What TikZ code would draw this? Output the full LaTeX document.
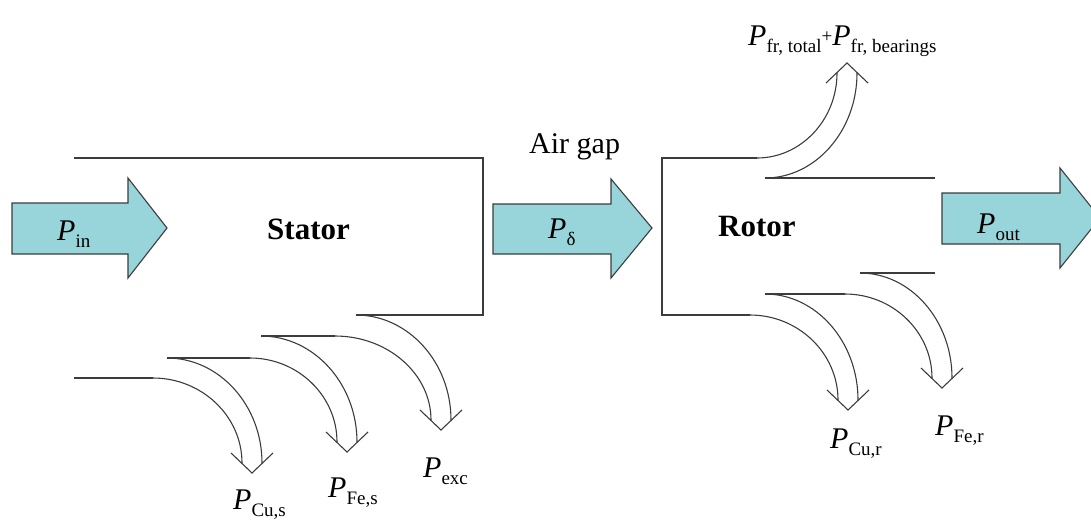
\documentclass[tikz,border=0pt]{standalone}
\usepackage{fontspec}
\setmainfont{Liberation Serif}
\usetikzlibrary{calc}
\definecolor{arrowfill}{RGB}{151,213,218}
\definecolor{linecol}{RGB}{60,60,60}
\newcommand\Pl[1]{\textit{P}\raisebox{-7pt}{\fontsize{19}{19}\selectfont #1}}
\newcommand\flowto[2]{\draw[flow] (#1) .. controls ($(#1)!0.55!(#1 -| #2)$) and ($(#2)!0.55!(#1 -| #2)$) .. (#2);}
\newcommand\downhead[1]{\draw[flow] ($(#1)+(-21,-20)$) -- (#1) -- ($(#1)+(21,-20)$);}
\newcommand\uphead[1]{\draw[flow] ($(#1)+(-21,20)$) -- (#1) -- ($(#1)+(21,20)$);}
\begin{document}
\begin{tikzpicture}[x=1pt,y=-1pt,
  flow/.style={draw=linecol,line width=1.1pt},
  bigarrow/.style={draw=linecol,fill=arrowfill,line width=1.1pt},
  lbl/.style={inner sep=0pt,anchor=base west,font=\fontsize{30}{34}\selectfont},
  blbl/.style={inner sep=0pt,anchor=base west,font=\fontsize{31}{34}\selectfont\bfseries}]
\useasboundingbox (0,0) rectangle (1091,523);

% ---------- block arrows ----------
\draw[bigarrow] (12,203) -- (128,203) -- (128,178) -- (167,228) -- (128,278) -- (128,254) -- (12,254) -- cycle;
\draw[bigarrow] (493,204) -- (611,204) -- (611,179) -- (652,228) -- (611,278) -- (611,254) -- (493,254) -- cycle;
\draw[bigarrow] (942,193) -- (1060,193) -- (1060,168) -- (1100,218) -- (1060,268) -- (1060,244) -- (942,244) -- cycle;

% ---------- stator ----------
\coordinate (sTL) at (74,158);
\coordinate (sTR) at (483,158);
\coordinate (sBR) at (483,315);
\coordinate (sB)  at (356,315);
\coordinate (a0) at (261,336);
\coordinate (a1) at (335,336);
\coordinate (b0) at (167,358);
\coordinate (b1) at (250,358);
\coordinate (c0) at (74,378);
\coordinate (c1) at (153,378);
\coordinate (excT) at (441,430);
\coordinate (excL) at (431,420);
\coordinate (excR) at (451,420);
\coordinate (feST) at (347,452);
\coordinate (feSL) at (337,442);
\coordinate (feSR) at (357,442);
\coordinate (cuST) at (252,473);
\coordinate (cuSL) at (242,463);
\coordinate (cuSR) at (262,463);

\draw[flow] (sTL) -- (sTR) -- (sBR) -- (sB);
\flowto{sB}{excR}
\draw[flow] (a0) -- (a1);
\flowto{a1}{excL}
\flowto{a0}{feSR}
\draw[flow] (b0) -- (b1);
\flowto{b1}{feSL}
\flowto{b0}{cuSR}
\draw[flow] (c0) -- (c1);
\flowto{c1}{cuSL}
\downhead{excT}
\downhead{feST}
\downhead{cuST}

% ---------- rotor ----------
\coordinate (rT)  at (757,158);
\coordinate (rTL) at (662,158);
\coordinate (rBL) at (662,315);
\coordinate (rB)  at (750,315);
\coordinate (d0) at (765,178);
\coordinate (d1) at (935,178);
\coordinate (e0) at (765,294);
\coordinate (e1) at (845,294);
\coordinate (f0) at (860,273);
\coordinate (f1) at (935,273);
\coordinate (frT) at (847,63);
\coordinate (frL) at (837,73);
\coordinate (frR) at (857,73);
\coordinate (cuRT) at (848,410);
\coordinate (cuRL) at (838,400);
\coordinate (cuRR) at (858,400);
\coordinate (feRT) at (942,388);
\coordinate (feRL) at (932,378);
\coordinate (feRR) at (952,378);

\draw[flow] (rT) -- (rTL) -- (rBL) -- (rB);
\flowto{rT}{frL}
\draw[flow] (d0) -- (d1);
\flowto{d0}{frR}
\flowto{rB}{cuRL}
\draw[flow] (e0) -- (e1);
\flowto{e0}{cuRR}
\flowto{e1}{feRL}
\draw[flow] (f0) -- (f1);
\flowto{f0}{feRR}
\uphead{frT}
\downhead{cuRT}
\downhead{feRT}

% ---------- labels ----------
\node[lbl]  (pin)   at (57,240)  {\Pl{in}};
\node[lbl]  (pdel)  at (548,238) {\Pl{δ}};
\node[lbl]  (pout)  at (977,233) {\Pl{out}};
\node[blbl] (stat)  at (267,239) {Stator};
\node[blbl] (rot)   at (718,236) {Rotor};
\node[lbl]  (air)   at (529,153) {Air gap};
\node[lbl]  (pcus)  at (233,509) {\Pl{Cu,s}};
\node[lbl]  (pfes)  at (328,497) {\Pl{Fe,s}};
\node[lbl]  (pexc)  at (423,477) {\Pl{exc}};
\node[lbl]  (pcur)  at (830,448) {\Pl{Cu,r}};
\node[lbl]  (pfer)  at (935,435) {\Pl{Fe,r}};
\node[lbl]  (pfr)   at (748,45)  {\Pl{fr, total}\raisebox{3pt}{\fontsize{19}{19}\selectfont+}\Pl{fr, bearings}};
\end{tikzpicture}
\end{document}
